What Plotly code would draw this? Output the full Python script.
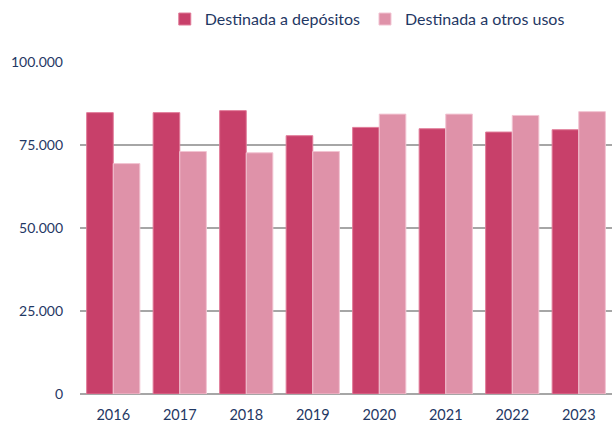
import plotly.graph_objects as go

years = ["2016", "2017", "2018", "2019", "2020", "2021", "2022", "2023"]
depositos = [84750, 84750, 85350, 77800, 80300, 79900, 78900, 79600]
otros_usos = [69400, 73050, 72650, 73050, 84300, 84300, 83900, 85050]

series_names = ["Destinada a depósitos", "Destinada a otros usos"]
y_ticks = [0, 25000, 50000, 75000, 100000]

text_color = "#1F3864"
font_family = "Lato, Open Sans, sans-serif"

fig = go.Figure()
fig.add_trace(go.Bar(x=years, y=depositos, name=series_names[0],
                     marker=dict(color="#C8406A", line=dict(color="#E07A98", width=1))))
fig.add_trace(go.Bar(x=years, y=otros_usos, name=series_names[1],
                     marker=dict(color="#DF92A9", line=dict(color="#F2C4D2", width=1))))

fig.update_layout(
    width=612, height=425,
    margin=dict(l=80, r=0, t=62, b=31),
    paper_bgcolor="white", plot_bgcolor="white",
    barmode="group", bargap=0.2, bargroupgap=0,
    separators=",.",
    font=dict(family=font_family, size=14, color=text_color),
    legend=dict(orientation="h", x=0.54, xanchor="center", y=0.995, yanchor="top",
                yref="container", font=dict(size=16, color=text_color),
                itemwidth=30, traceorder="normal"),
    xaxis=dict(showgrid=False, showline=False, ticks="", ticklabelstandoff=10,
               tickfont=dict(size=14.5, color=text_color)),
    yaxis=dict(range=[0, 100000], tickvals=y_ticks, tickformat=",d",
               showgrid=True, gridcolor="#A6A6A6", gridwidth=1.5,
               zeroline=True, zerolinecolor="#A6A6A6", zerolinewidth=1.5,
               ticks="", ticklabelstandoff=16, tickfont=dict(size=14, color=text_color)),
)

fig.write_html("out.html")
